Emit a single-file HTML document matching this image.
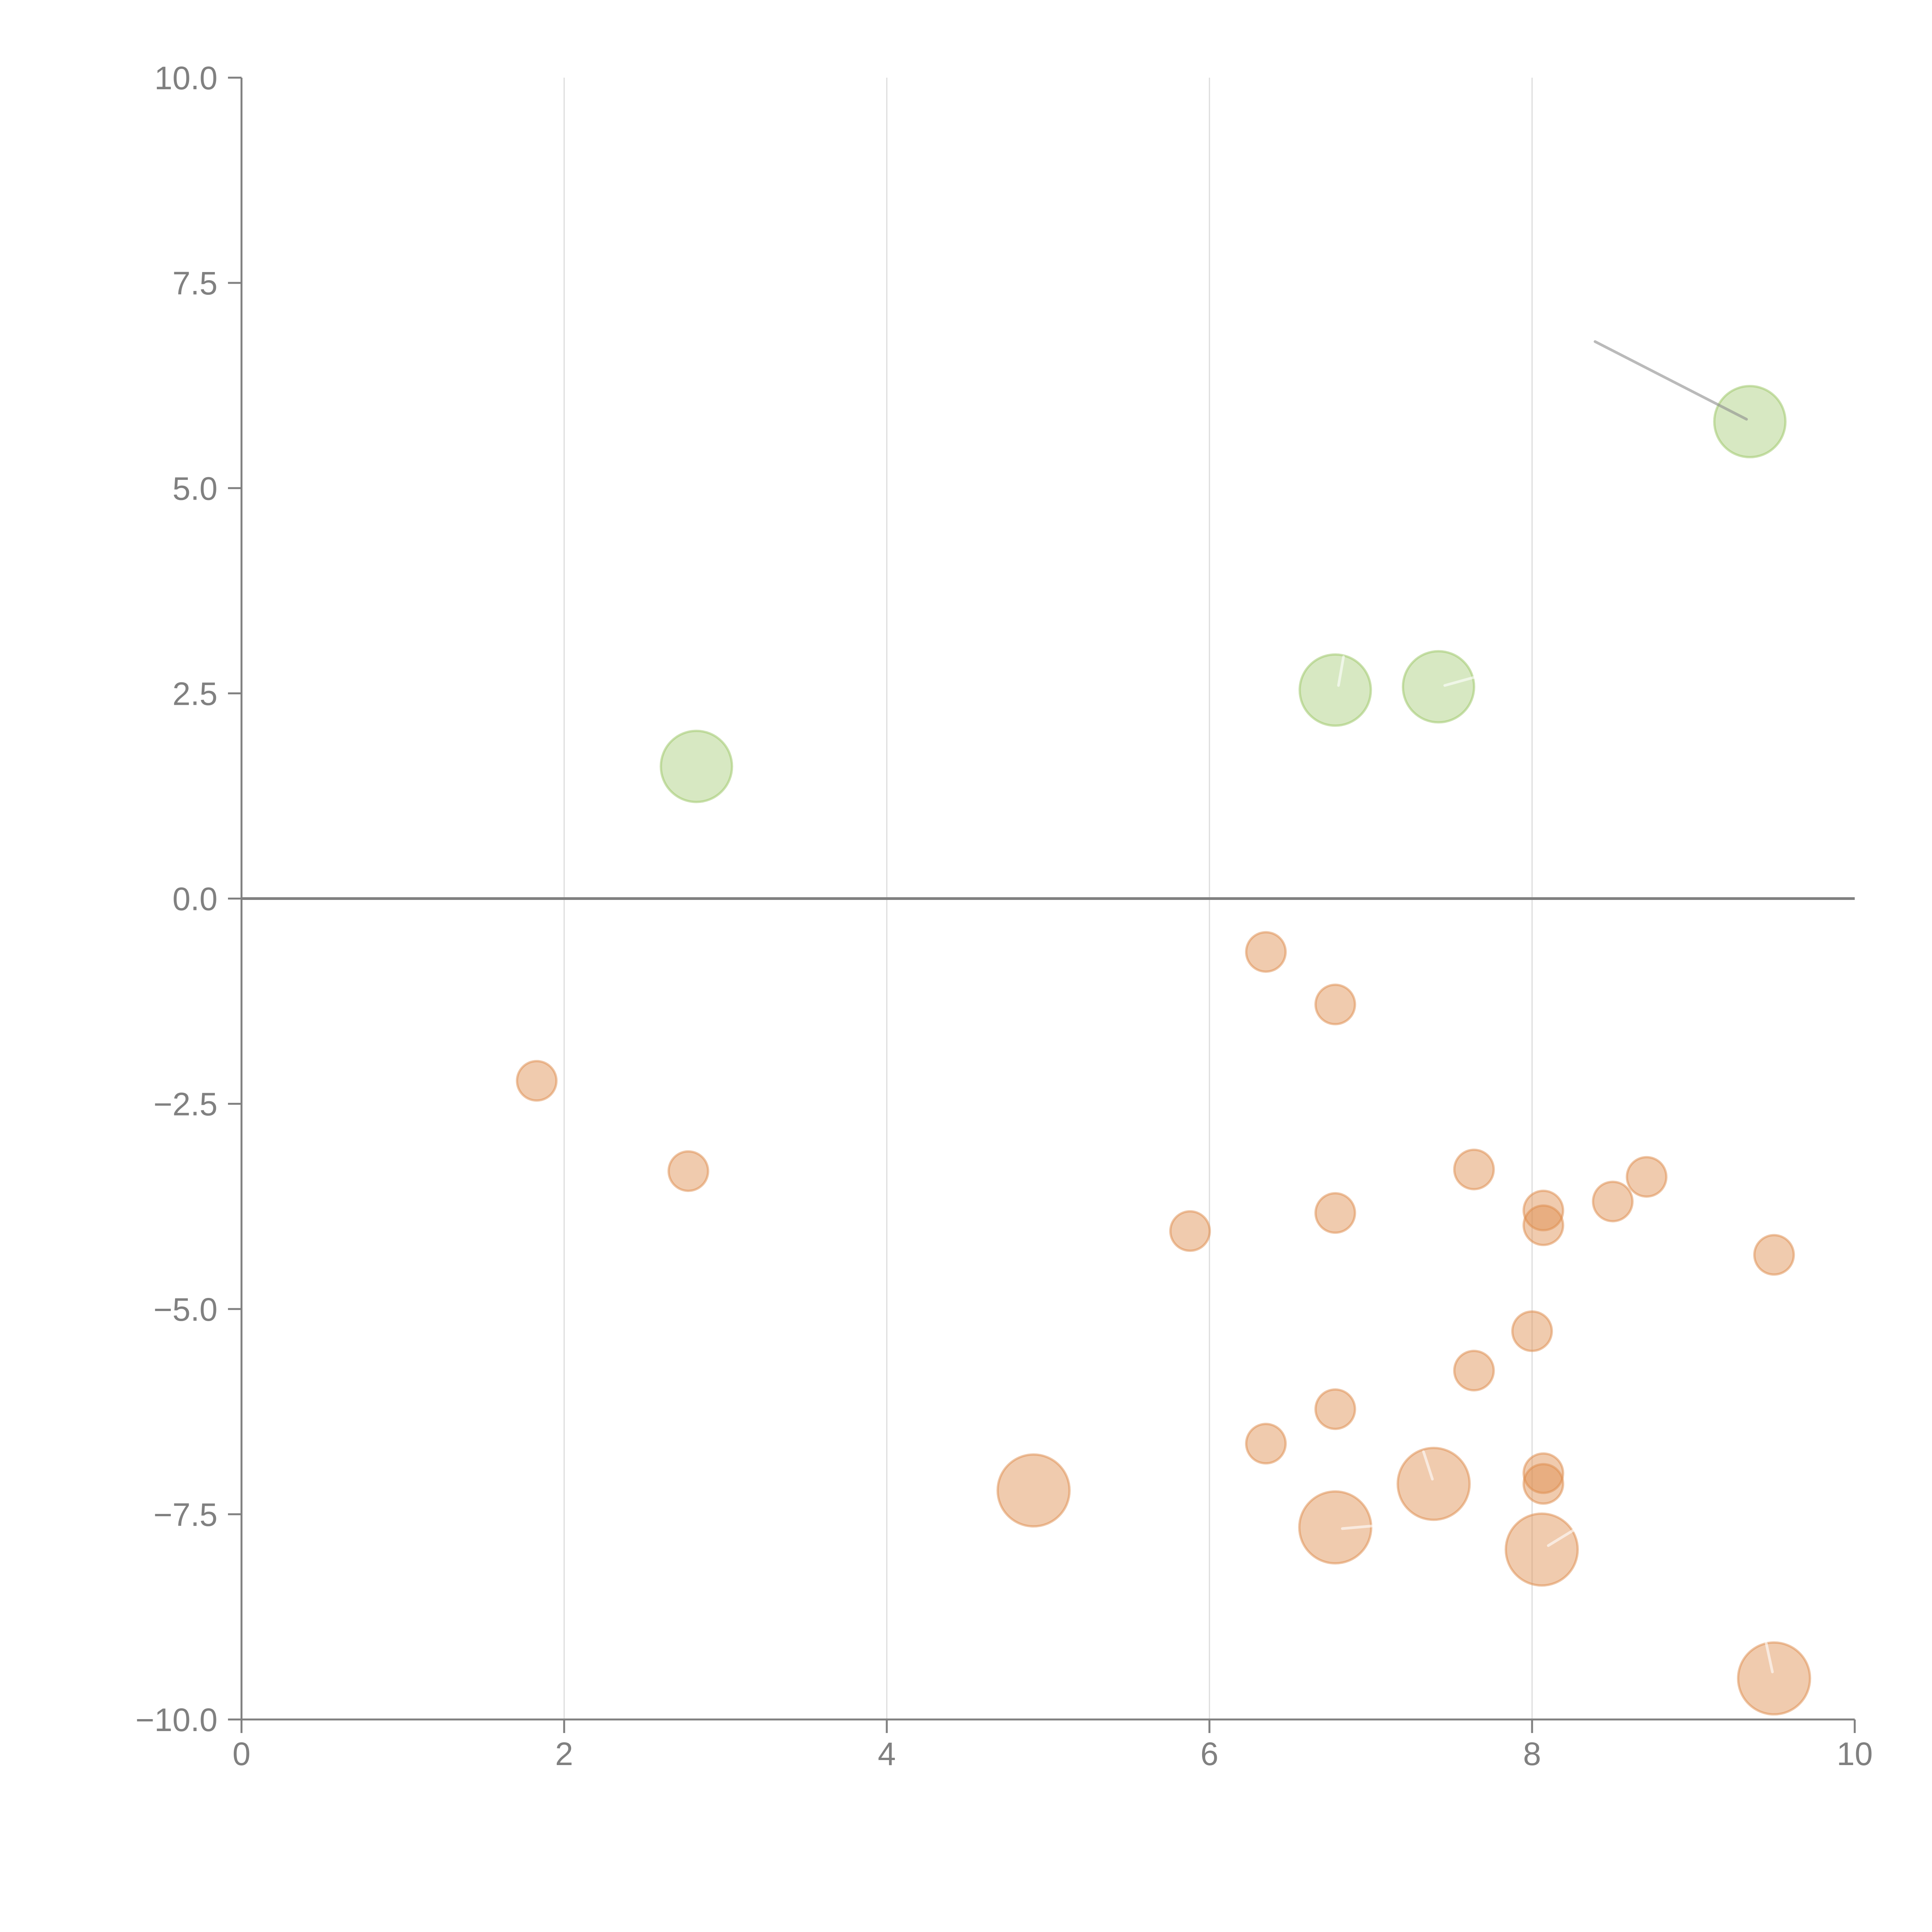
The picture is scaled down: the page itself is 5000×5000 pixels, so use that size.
<!DOCTYPE html>
<html><head><meta charset="utf-8"><style>
html,body{margin:0;padding:0;background:#fff;}
svg{display:block;}
text{font-family:"Liberation Sans",Arial,sans-serif;fill:#808080;}
</style></head><body>
<svg id="chart" width="5000" height="5000" viewBox="0 0 5000 5000" xmlns="http://www.w3.org/2000/svg">
<g id="grid"></g>
<g id="axes"></g>
<g id="marks"></g>
<g id="annots"></g>
</svg>
<script>
const xTicks = [0, 2, 4, 6, 8, 10];
const yTicks = [10, 7.5, 5, 2.5, 0, -2.5, -5, -7.5, -10];
const yTickLabels = ["10.0", "7.5", "5.0", "2.5", "0.0", "\u22122.5", "\u22125.0", "\u22127.5", "\u221210.0"];
const greenX = [2.82, 6.78, 7.42, 9.35];
const greenY = [1.61, 2.54, 2.58, 5.81];
const orangeSmallX = [6.35, 6.78, 1.83, 2.77, 5.88, 6.78, 7.64, 8.07, 8.07, 8.50, 8.71, 9.50, 8.00, 7.64, 6.78, 6.35, 8.07, 8.07];
const orangeSmallY = [-0.65, -1.29, -2.22, -3.32, -4.05, -3.83, -3.30, -3.80, -3.98, -3.69, -3.39, -4.34, -5.27, -5.75, -6.22, -6.64, -7.00, -7.13];
const orangeLargeX = [4.91, 7.39, 6.78, 8.06, 9.50];
const orangeLargeY = [-7.21, -7.13, -7.66, -7.93, -9.50];

const X0 = 625, X1 = 4800, Y0 = 4450, Y1 = 201;
const sx = v => X0 + (v - 0) / 10 * (X1 - X0);
const sy = v => Y0 - (v + 10) / 20 * (Y0 - Y1);
const NS = "http://www.w3.org/2000/svg";
function mk(tag, attrs, parent) {
  const e = document.createElementNS(NS, tag);
  for (const k in attrs) e.setAttribute(k, attrs[k]);
  parent.appendChild(e);
  return e;
}
const grid = document.getElementById('grid');
const axes = document.getElementById('axes');
const marks = document.getElementById('marks');
const annots = document.getElementById('annots');

xTicks.forEach(t => {
  if (t !== 0 && t !== 10) {
    const g = mk('line', {x1: sx(t), x2: sx(t), y1: Y1, y2: Y0, stroke: '#dcdcdc', 'stroke-width': 3}, grid);
    
    
  }
  const tk = mk('line', {x1: sx(t), x2: sx(t), y1: Y0, y2: Y0 + 35, stroke: '#808080', 'stroke-width': 5}, axes);
  
  
  const tx = mk('text', {x: sx(t), y: Y0 + 118, 'font-size': 84, 'text-anchor': 'middle'}, axes);
  tx.textContent = String(t);
  
  
});
yTicks.forEach((t, i) => {
  const tk = mk('line', {x1: X0 - 35, x2: X0, y1: sy(t), y2: sy(t), stroke: '#808080', 'stroke-width': 5}, axes);
  
  
  const tx = mk('text', {x: X0 - 62, y: sy(t) + 30, 'font-size': 84, 'text-anchor': 'end'}, axes);
  tx.textContent = yTickLabels[i];
  
  
});
const ya = mk('line', {x1: X0, x2: X0, y1: Y1, y2: Y0, stroke: '#808080', 'stroke-width': 5}, axes);


const xa = mk('line', {x1: X0, x2: X1, y1: Y0, y2: Y0, stroke: '#808080', 'stroke-width': 5}, axes);


const zl = mk('line', {x1: X0, x2: X1, y1: sy(0), y2: sy(0), stroke: '#808080', 'stroke-width': 7}, axes);



function bubbles(xs, ys, r, fill, stroke, name) {
  xs.forEach((x, i) => {
    const c = mk('circle', {cx: sx(x), cy: sy(ys[i]), r: r, fill: fill, stroke: stroke, 'stroke-width': 6}, marks);
    
    
  });
}
bubbles(greenX, greenY, 92, 'rgba(160,200,110,0.42)', 'rgba(160,200,110,0.55)', 'positive-bubble');
bubbles(orangeSmallX, orangeSmallY, 51, 'rgba(222,140,75,0.45)', 'rgba(222,140,75,0.5)', 'negative-bubble-small');
bubbles(orangeLargeX, orangeLargeY, 93, 'rgba(222,140,75,0.45)', 'rgba(222,140,75,0.5)', 'negative-bubble-large');

// annotation leader line
const ld = mk('line', {x1: 4128, y1: 884, x2: 4520, y2: 1085, stroke: 'rgba(140,140,140,0.6)', 'stroke-width': 7, 'stroke-linecap': 'round'}, annots);


const wl = [[3464,1774,3477,1700],[3739,1774,3822,1751],[3707,3828,3684,3757],[3474,3956,3554,3949],[4007,4000,4074,3959],[4587,4327,4571,4253]];
wl.forEach(p => {
  const l = mk('line', {x1: p[0], y1: p[1], x2: p[2], y2: p[3], stroke: 'rgba(255,255,255,0.6)', 'stroke-width': 7, 'stroke-linecap': 'round'}, annots);
  
  
});
</script>
</body></html>
